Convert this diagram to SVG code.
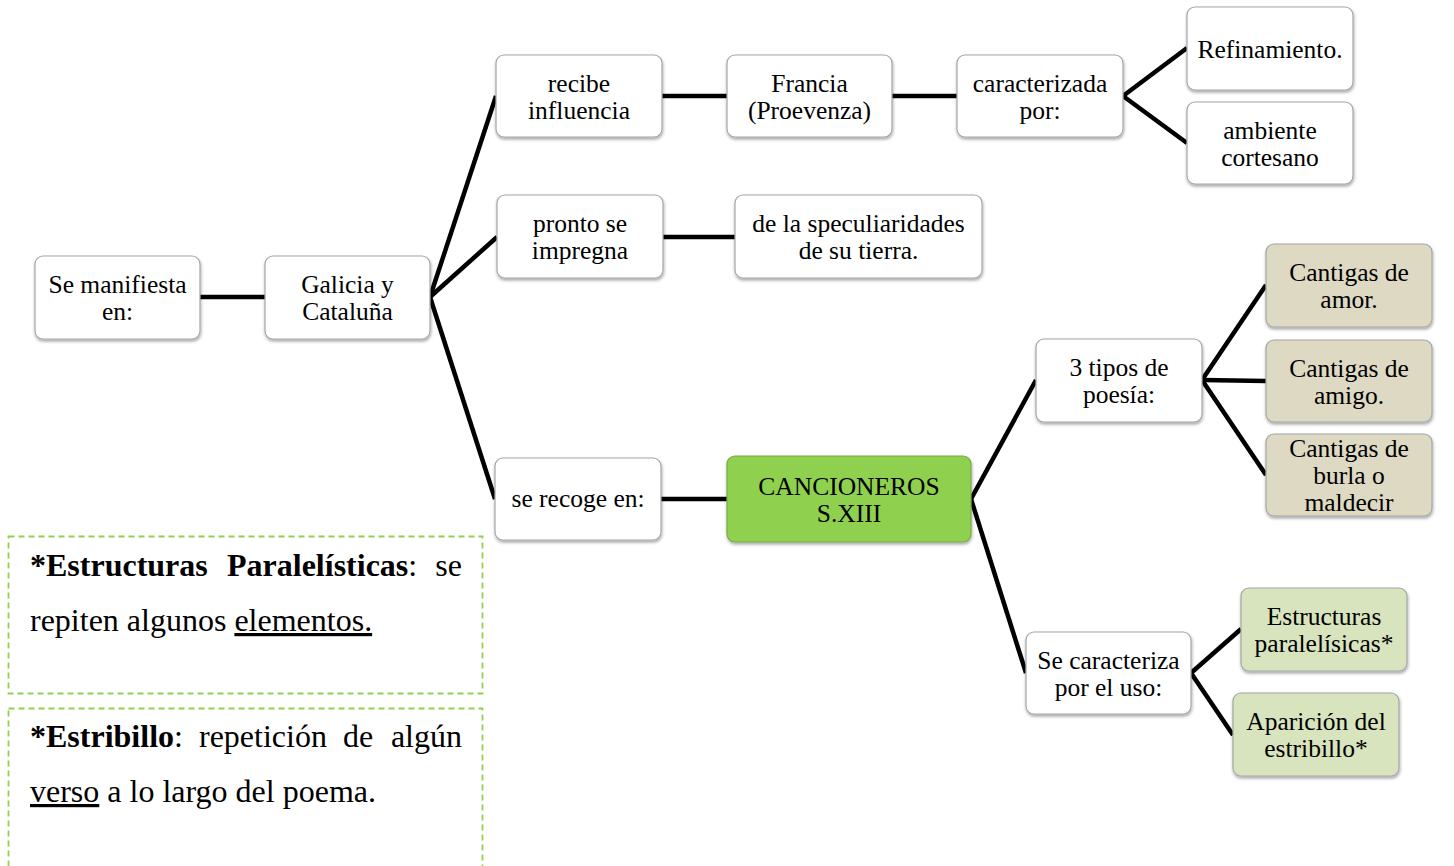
<svg xmlns="http://www.w3.org/2000/svg" width="1454" height="866" viewBox="0 0 1454 866">
<style>
.box{fill:#ffffff;stroke:#a6a6a6;stroke-width:1.2;filter:url(#sh)}
.grn{fill:#8fd14f;stroke:#7aa84a;stroke-width:1.2;filter:url(#sh)}
.tan{fill:#ddd9c3;stroke:#a6a6a6;stroke-width:1.2;filter:url(#sh)}
.lgr{fill:#d7e4bd;stroke:#a6a6a6;stroke-width:1.2;filter:url(#sh)}
.t{font-family:"Liberation Serif","Times New Roman",serif;font-size:25.5px;fill:#000;text-anchor:middle}
.c{stroke:#000;stroke-width:4.5;fill:none;stroke-linecap:butt}
.note{fill:none;stroke:#92d050;stroke-width:1.8;stroke-dasharray:6 4}
.nt{font-family:"Liberation Serif","Times New Roman",serif;font-size:32px;fill:#000}
.b{font-weight:bold}
</style>
<defs>
<filter id="sh" x="-10%" y="-10%" width="120%" height="130%">
<feDropShadow dx="0.5" dy="2" stdDeviation="1.5" flood-color="#000" flood-opacity="0.35"/>
</filter>
</defs>
<rect width="1454" height="866" fill="#ffffff"/>
<g id="connectors">
<line class="c" x1="200" y1="297" x2="265" y2="297"/>
<line class="c" x1="430" y1="297" x2="496" y2="96"/>
<line class="c" x1="430" y1="297" x2="497" y2="237"/>
<line class="c" x1="430" y1="297" x2="495" y2="499"/>
<line class="c" x1="662" y1="96" x2="727" y2="96"/>
<line class="c" x1="892" y1="96" x2="957" y2="96"/>
<line class="c" x1="1123" y1="96" x2="1187" y2="48"/>
<line class="c" x1="1123" y1="96" x2="1187" y2="143"/>
<line class="c" x1="663" y1="237" x2="735" y2="237"/>
<line class="c" x1="661" y1="499" x2="727" y2="499"/>
<line class="c" x1="971" y1="499" x2="1036" y2="380"/>
<line class="c" x1="971" y1="499" x2="1026" y2="673"/>
<line class="c" x1="1202" y1="380" x2="1266" y2="285"/>
<line class="c" x1="1202" y1="380" x2="1266" y2="381"/>
<line class="c" x1="1202" y1="380" x2="1266" y2="475"/>
<line class="c" x1="1191" y1="673" x2="1241" y2="629"/>
<line class="c" x1="1191" y1="673" x2="1233" y2="735"/>
</g>
<g id="n1"><rect class="box" x="35" y="256" width="165" height="83" rx="8"/><text class="t" x="117.5" y="293">Se manifiesta</text><text class="t" x="117.5" y="320">en:</text></g>
<g id="n2"><rect class="box" x="265" y="256" width="165" height="83" rx="8"/><text class="t" x="347.5" y="293">Galicia y</text><text class="t" x="347.5" y="320">Cataluña</text></g>
<g id="n3"><rect class="box" x="496" y="55" width="166" height="82" rx="8"/><text class="t" x="579" y="92">recibe</text><text class="t" x="579" y="119">influencia</text></g>
<g id="n4"><rect class="box" x="727" y="55" width="165" height="82" rx="8"/><text class="t" x="809.5" y="92">Francia</text><text class="t" x="809.5" y="119">(Proevenza)</text></g>
<g id="n5"><rect class="box" x="957" y="55" width="166" height="82" rx="8"/><text class="t" x="1040" y="92">caracterizada</text><text class="t" x="1040" y="119">por:</text></g>
<g id="n6"><rect class="box" x="1187" y="7" width="166" height="83" rx="8"/><text class="t" x="1270" y="58">Refinamiento.</text></g>
<g id="n7"><rect class="box" x="1187" y="102" width="166" height="82" rx="8"/><text class="t" x="1270" y="139">ambiente</text><text class="t" x="1270" y="166">cortesano</text></g>
<g id="n8"><rect class="box" x="497" y="195" width="166" height="83" rx="8"/><text class="t" x="580" y="232">pronto se</text><text class="t" x="580" y="259">impregna</text></g>
<g id="n9"><rect class="box" x="735" y="195" width="247" height="83" rx="8"/><text class="t" x="858.5" y="232">de la speculiaridades</text><text class="t" x="858.5" y="259">de su tierra.</text></g>
<g id="n10"><rect class="box" x="495" y="458" width="166" height="82" rx="8"/><text class="t" x="578" y="507">se recoge en:</text></g>
<g id="n11"><rect class="grn" x="727" y="456" width="244" height="86" rx="8"/><text class="t" x="849" y="495">CANCIONEROS</text><text class="t" x="849" y="522">S.XIII</text></g>
<g id="n12"><rect class="box" x="1036" y="339" width="166" height="83" rx="8"/><text class="t" x="1119" y="376">3 tipos de</text><text class="t" x="1119" y="403">poesía:</text></g>
<g id="n13"><rect class="tan" x="1266" y="244" width="166" height="83" rx="8"/><text class="t" x="1349" y="281">Cantigas de</text><text class="t" x="1349" y="308">amor.</text></g>
<g id="n14"><rect class="tan" x="1266" y="340" width="166" height="82" rx="8"/><text class="t" x="1349" y="377">Cantigas de</text><text class="t" x="1349" y="404">amigo.</text></g>
<g id="n15"><rect class="tan" x="1266" y="434" width="166" height="82" rx="8"/><text class="t" x="1349" y="457">Cantigas de</text><text class="t" x="1349" y="484">burla o</text><text class="t" x="1349" y="511">maldecir</text></g>
<g id="n16"><rect class="box" x="1026" y="632" width="165" height="82" rx="8"/><text class="t" x="1108.5" y="669">Se caracteriza</text><text class="t" x="1108.5" y="696">por el uso:</text></g>
<g id="n17"><rect class="lgr" x="1241" y="588" width="166" height="83" rx="8"/><text class="t" x="1324" y="625">Estructuras</text><text class="t" x="1324" y="652">paralelísicas*</text></g>
<g id="n18"><rect class="lgr" x="1233" y="693" width="166" height="83" rx="8"/><text class="t" x="1316" y="730">Aparición del</text><text class="t" x="1316" y="757">estribillo*</text></g>
<g id="note1">
<rect class="note" x="8.5" y="536.5" width="474" height="157"/>
<text class="nt" x="30" y="576"><tspan class="b">*Estructuras</tspan></text>
<text class="nt" x="227" y="576"><tspan class="b">Paralelísticas</tspan>:</text>
<text class="nt" x="462" y="576" text-anchor="end">se</text>
<text class="nt" x="30" y="631">repiten algunos <tspan text-decoration="underline">elementos.</tspan></text>
</g>
<g id="note2">
<rect class="note" x="8.5" y="708.5" width="474" height="160"/>
<text class="nt" x="30" y="747"><tspan class="b">*Estribillo</tspan>:</text>
<text class="nt" x="199" y="747">repetición</text>
<text class="nt" x="343" y="747">de</text>
<text class="nt" x="462" y="747" text-anchor="end">algún</text>
<text class="nt" x="30" y="802"><tspan text-decoration="underline">verso</tspan> a lo largo del poema.</text>
</g>
</svg>
